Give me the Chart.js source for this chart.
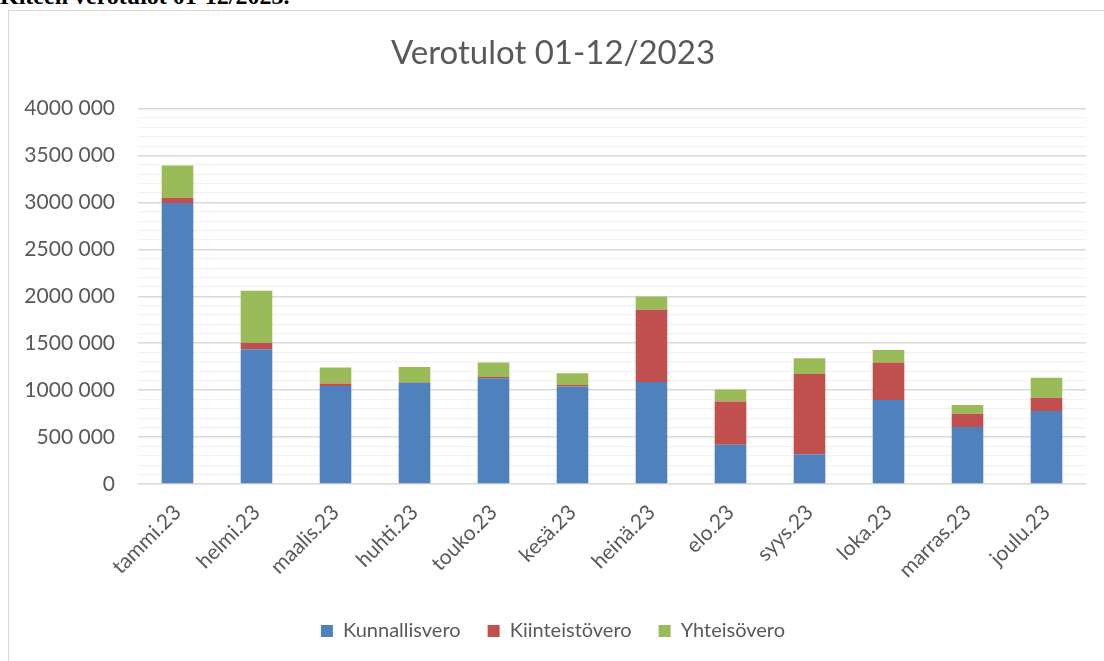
<!DOCTYPE html>
<html>
<head>
<meta charset="utf-8">
<script src="https://cdn.jsdelivr.net/npm/chart.js@4"></script>
<style>
  body { margin: 0; background: #fff; overflow: hidden; }
  #heading { position: absolute; left: 0; top: -17px; line-height: 24px; font: bold 24px "Liberation Serif", "Times New Roman", serif; color: #000; white-space: nowrap; }
  #frame { position: absolute; left: 8px; top: 10px; width: 1110px; height: 670px; border: 1px solid #d9d9d9; }
  #wrap { position: absolute; left: 0; top: 0; width: 1104px; height: 651px; }
</style>
</head>
<body>
<div id="heading">Kiteen verotulot 01-12/2023.</div>
<div id="frame"></div>
<div id="wrap"><canvas id="myChart"></canvas></div>
<script>
// kuukaudet
const months = ['tammi.23','helmi.23','maalis.23','huhti.23','touko.23','kesä.23','heinä.23','elo.23','syys.23','loka.23','marras.23','joulu.23'];
// verolajit (euroa), luettu kuvasta
const kunnallisvero = [2994000,1437000,1045000,1080000,1127000,1040000,1088000,419000,316000,896000,608000,778000];
const kiinteistovero = [57000,67000,25000,3000,12000,14000,768000,459000,857000,398000,140000,140000];
const yhteisovero = [344000,555000,171000,165000,155000,125000,142000,128000,168000,135000,95000,213000];

const yMax = 4000000;
const majorStep = 500000;
const minorStep = 100000;

const txt = '#595959';
const fnt = 'Lato';

function fmt(v){
  if(v==0) return '0';
  return (v/1000)+' 000';
}

var ctx=document.getElementById('myChart').getContext('2d');
var chart=new Chart(ctx,{
  type:'bar',
  data:{
    labels: months,
    datasets:[
      {label:'Kunnallisvero', data:kunnallisvero, backgroundColor:'#4f81bd'},
      {label:'Kiinteistövero', data:kiinteistovero, backgroundColor:'#c0504d'},
      {label:'Yhteisövero', data:yhteisovero, backgroundColor:'#9bbb59'}
    ]
  },
  options:{
    responsive:true,
    maintainAspectRatio:false,
    animation:false,
    layout:{padding:{top:34,right:18,bottom:0,left:20}},
    datasets:{bar:{categoryPercentage:1, barPercentage:0.4}},
    plugins:{
      title:{display:true, text:'Verotulot 01-12/2023', color:txt,
        font:{family:fnt, size:33, weight:'normal'}, padding:{top:0,bottom:35}},
      legend:{position:'bottom',
        labels:{color:txt, font:{family:fnt,size:20}, boxWidth:12, boxHeight:12, padding:27}},
      tooltip:{enabled:false}
    },
    scales:{
      x:{stacked:true,
        grid:{display:false},
        border:{display:false},
        ticks:{color:txt, font:{family:fnt,size:21}, maxRotation:45, minRotation:45, padding:8},
        afterFit:function(s){ s.height=110; }
      },
      y:{stacked:true, min:0, max:yMax,
        border:{display:false},
        grid:{drawTicks:false,
          color:function(c){ return c.tick.value % majorStep==0 ? '#d9d9d9' : '#f2f2f2'; },
          lineWidth:function(c){ return c.tick.value % majorStep==0 ? 1.5 : 1.2; }
        },
        ticks:{stepSize:minorStep, autoSkip:false, color:txt, font:{family:fnt,size:21}, padding:23,
          callback:function(v){ return v % majorStep==0 ? fmt(v) : ''; }},
        afterFit:function(s){ s.width=118; }
      }
    }
  }
});
</script>
</body>
</html>
